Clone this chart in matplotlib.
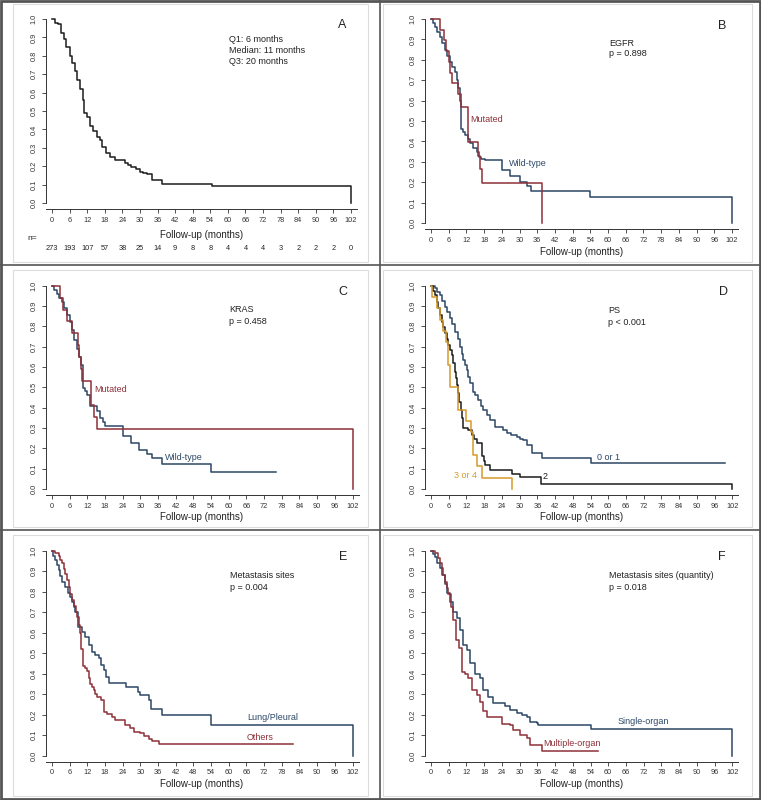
import numpy as np
import matplotlib
matplotlib.use("Agg")
import matplotlib.pyplot as plt
from matplotlib.patches import Rectangle
from matplotlib.lines import Line2D

plt.rcParams['font.family'] = ['Liberation Sans', 'DejaVu Sans']

# ---- data ----
x_ticks = list(range(0, 103, 6))
y_ticks = [0.0, 0.1, 0.2, 0.3, 0.4, 0.5, 0.6, 0.7, 0.8, 0.9, 1.0]
n_at_risk = [273, 193, 107, 57, 38, 25, 14, 9, 8, 8, 4, 4, 4, 3, 2, 2, 2, 0]

# A: all patients
tA = [0, 0.9, 2, 3.2, 4.2, 4.9, 6, 6.8, 7.7, 8.6, 9.5, 10.6, 11, 12, 12.9, 14, 15.2, 16.5, 17.2, 18.3,
      19.7, 21.4, 24.8, 26, 27.1, 28.8, 30, 31, 32.3, 34, 37.4, 54.5, 102]
sA = [1, 0.98, 0.975, 0.925, 0.89, 0.85, 0.80, 0.76, 0.715, 0.67, 0.62, 0.56, 0.49, 0.47, 0.42, 0.39, 0.36, 0.34, 0.305, 0.27,
      0.25, 0.233, 0.215, 0.205, 0.196, 0.187, 0.17, 0.165, 0.16, 0.124, 0.105, 0.091, 0]

# B: EGFR
tB_mut = [0, 3, 4.3, 5, 6, 6.5, 7.2, 9.2, 10, 12.5, 15.9, 16.6, 17.3, 37.5]
sB_mut = [1, 0.947, 0.895, 0.842, 0.789, 0.737, 0.684, 0.632, 0.568, 0.395, 0.329, 0.263, 0.197, 0]
tB_wt = [0, 0.7, 1.4, 2.2, 3, 3.8, 4.7, 5.5, 6.4, 7.2, 8.1, 8.7, 9.2, 9.8, 10.3, 11, 11.6, 12.4, 13.3, 14.4,
         15.5, 16.1, 17, 18.3, 24, 26.8, 30.2, 32.6, 33.9, 54, 102]
sB_wt = [1, 0.98, 0.96, 0.935, 0.91, 0.88, 0.85, 0.82, 0.79, 0.765, 0.74, 0.70, 0.66, 0.6, 0.46, 0.445, 0.43, 0.41, 0.39, 0.37,
         0.35, 0.325, 0.315, 0.31, 0.26, 0.23, 0.2, 0.18, 0.157, 0.127, 0]

# C: KRAS
tC_mut = [0, 2.8, 3.6, 5.0, 6.8, 8.7, 9.3, 9.8, 10.2, 13.3, 14.3, 15.2, 102]
sC_mut = [1, 0.941, 0.882, 0.824, 0.765, 0.706, 0.647, 0.588, 0.529, 0.412, 0.353, 0.294, 0]
tC_wt = [0, 0.8, 1.7, 2.5, 3.4, 4.2, 5.1, 6, 6.8, 7.6, 8.5, 9.2, 9.9, 10.5, 11.2, 11.9, 12.8, 15.2, 16.4, 17.2,
         18, 24, 26.8, 29.7, 32.2, 33.9, 37.3, 54, 76.2]
sC_wt = [1, 0.98, 0.96, 0.94, 0.92, 0.89, 0.856, 0.82, 0.78, 0.735, 0.69, 0.65, 0.61, 0.495, 0.48, 0.46, 0.41, 0.385, 0.35, 0.33,
         0.31, 0.26, 0.225, 0.19, 0.17, 0.153, 0.122, 0.082, 0.082]

# D: PS
tD_01 = [0, 1.4, 2.2, 3, 3.8, 4.7, 5.5, 6.4, 7.2, 8.1, 9, 9.8, 10.4, 10.9, 11.5, 12.1, 12.6, 13.2, 14.3, 15,
         16, 16.8, 17.7, 18.8, 20, 21.7, 24.5, 25.6, 27, 29, 30.2, 31.3, 32.4, 34.1, 37.5, 54.2, 99.5]
sD_01 = [1, 0.987, 0.97, 0.954, 0.925, 0.897, 0.87, 0.84, 0.81, 0.774, 0.74, 0.70, 0.665, 0.634, 0.61, 0.585, 0.55, 0.52, 0.479, 0.46,
         0.438, 0.41, 0.389, 0.365, 0.34, 0.307, 0.29, 0.274, 0.265, 0.257, 0.248, 0.24, 0.216, 0.175, 0.151, 0.126, 0.126]
tD_2 = [0, 0.8, 1.4, 2, 2.5, 3, 3.6, 4.2, 4.7, 5.3, 5.9, 6.5, 7, 7.6, 8.1, 8.5, 8.9, 9.2, 9.6, 10,
        10.4, 11, 12.6, 13.8, 14.6, 15.5, 17.2, 17.8, 18.3, 20, 27.3, 30.1, 37.1, 102]
sD_2 = [1, 0.975, 0.954, 0.92, 0.889, 0.855, 0.823, 0.795, 0.766, 0.74, 0.71, 0.685, 0.66, 0.62, 0.577, 0.545, 0.511, 0.47, 0.43, 0.39,
        0.347, 0.298, 0.29, 0.266, 0.245, 0.225, 0.16, 0.14, 0.118, 0.093, 0.074, 0.057, 0.025, 0]
tD_34 = [0, 0.3, 2, 3, 4.2, 5, 5.6, 6.3, 9.3, 11.8, 13.4, 14.3, 15.5, 17.2, 27.3]
sD_34 = [1, 0.944, 0.889, 0.833, 0.778, 0.722, 0.611, 0.5, 0.389, 0.333, 0.278, 0.167, 0.111, 0.056, 0]

# E: metastasis sites
tE_oth = [0, 1.1, 2.3, 2.8, 3.4, 4, 4.5, 5.1, 5.7, 6.2, 6.8, 7.4, 8, 8.5, 9, 9.6, 10, 10.5, 11.2, 11.9,
          12.4, 13, 13.5, 14.1, 14.6, 15.2, 16.6, 17.5, 18.6, 20.3, 21.5, 24.9, 26.5, 27.7, 29.9, 31.1, 32.8, 33.9, 36.4, 81.9]
sE_oth = [1, 0.987, 0.975, 0.955, 0.938, 0.91, 0.885, 0.857, 0.825, 0.79, 0.76, 0.73, 0.70, 0.678, 0.64, 0.597, 0.52, 0.44, 0.43, 0.415,
          0.38, 0.35, 0.335, 0.319, 0.30, 0.286, 0.27, 0.213, 0.205, 0.19, 0.173, 0.148, 0.137, 0.117, 0.112, 0.096, 0.08, 0.072, 0.055, 0.055]
tE_lung = [0, 0.5, 1.1, 1.7, 2.3, 2.8, 3.4, 4.5, 5.6, 6.2, 6.8, 7.4, 7.9, 8.8, 10.2, 11.3, 12.4, 13.6, 14.7, 15.8,
           16.7, 17.5, 18.4, 19.2, 25.2, 29.2, 29.9, 32.8, 33.6, 37.3, 54, 102]
sE_lung = [1, 0.975, 0.954, 0.93, 0.906, 0.878, 0.849, 0.824, 0.792, 0.775, 0.751, 0.725, 0.702, 0.63, 0.605, 0.58, 0.54, 0.507, 0.49, 0.475,
           0.442, 0.418, 0.385, 0.353, 0.337, 0.312, 0.296, 0.272, 0.23, 0.197, 0.148, 0]

# F: metastasis sites (quantity)
tF_mult = [0, 1.4, 2.5, 3.1, 3.6, 4.2, 4.7, 5.3, 5.9, 6.8, 7.6, 8.5, 9.6, 10.4, 11.5, 12.6, 13.8, 15.5, 16.6, 17.7,
           18.8, 24, 26.7, 27.9, 30.1, 32.4, 33.5, 37.7, 56.6]
sF_mult = [1, 0.987, 0.963, 0.94, 0.914, 0.88, 0.849, 0.82, 0.79, 0.727, 0.66, 0.564, 0.523, 0.41, 0.4, 0.377, 0.32, 0.295, 0.263, 0.22,
           0.19, 0.156, 0.15, 0.125, 0.1, 0.085, 0.052, 0.024, 0.024]
tF_single = [0, 0.7, 1.4, 2.2, 3, 3.8, 4.7, 5.5, 6.4, 7.6, 8.7, 9.8, 10.9, 12.1, 13.2, 14.9, 16.6, 17.7, 19.4, 21.1,
             25, 26.7, 29, 30.7, 32.4, 33.5, 35.8, 36.3, 54.2, 102]
sF_single = [1, 0.985, 0.97, 0.94, 0.914, 0.88, 0.84, 0.795, 0.75, 0.70, 0.67, 0.613, 0.54, 0.515, 0.45, 0.4, 0.377, 0.32, 0.288, 0.255,
             0.242, 0.221, 0.208, 0.197, 0.189, 0.165, 0.16, 0.148, 0.128, 0]

RED = '#8e3039'
BLUE = '#2c4866'
ORANGE = '#d69a2a'
BLACK = '#1c1c1c'

W, H = 761, 800


def fx(x):
    return x / W


def fy(y):
    return 1 - y / H


def make_axes(fig, x0, x102, y1, y0):
    # pixel anchors of t=0, t=102, S=1, S=0
    ppm = (x102 - x0) / 102.0
    ppu = (y0 - y1)
    left, right, top, bottom = x0 - 6, x102 + 6, y1 - 6, y0 + 6
    ax = fig.add_axes([fx(left), fy(bottom), (right - left) / W, (bottom - top) / H])
    ax.patch.set_alpha(0)
    ax.set_xlim(-6 / ppm, 102 + 6 / ppm)
    ax.set_ylim(-6 / ppu, 1 + 6 / ppu)
    for s in ['top', 'right']:
        ax.spines[s].set_visible(False)
    for s in ['left', 'bottom']:
        ax.spines[s].set_linewidth(0.7)
        ax.spines[s].set_color('#333333')
    ax.spines['left'].set_bounds(0, 1)
    ax.set_xticks(x_ticks)
    ax.set_xticklabels([str(v) for v in x_ticks])
    ax.set_yticks(y_ticks)
    ax.set_yticklabels(['%.1f' % v for v in y_ticks], rotation=90, va='center')
    ax.tick_params(direction='out', length=3, width=0.6, color='#333333',
                   labelsize=5.3, labelcolor='#333333')
    ax.tick_params(axis='x', pad=2.5)
    ax.tick_params(axis='y', pad=3)
    return ax


def curve(ax, t, s, color):
    ax.step(t, s, where='post', color=color, lw=1.1)


def txt(x, y, s, size=6.5, color='#222222', ha='left'):
    fig.text(fx(x), fy(y), s, fontsize=size, color=color, ha=ha, va='center')


fig = plt.figure(figsize=(7.61, 8.0), dpi=100)

# panel frames
frames = [(13, 4, 368, 262), (383, 4, 752, 262), (13, 270, 368, 527),
          (383, 270, 752, 527), (13, 535, 368, 796), (383, 535, 752, 796)]
for (x0, y0, x1, y1) in frames:
    fig.add_artist(Rectangle((fx(x0), fy(y1)), (x1 - x0) / W, (y1 - y0) / H,
                             transform=fig.transFigure, fill=False, ec='#dcdcdc', lw=0.8))
# dark separators and border
for seg in [((380, 380), (0, 800)), ((0, 761), (265, 265)), ((0, 761), (530, 530))]:
    fig.add_artist(Line2D([fx(v) for v in seg[0]], [fy(v) for v in seg[1]],
                          transform=fig.transFigure, color='#555555', lw=1.2))
fig.add_artist(Rectangle((0.001, 0.001), 0.998, 0.998, transform=fig.transFigure,
                         fill=False, ec='#555555', lw=2.0))

# A
ax = make_axes(fig, 52, 351, 19, 203)
curve(ax, tA, sA, BLACK)
txt(342, 25, 'A', size=9, ha='center')
txt(229, 40, 'Q1: 6 months')
txt(229, 50.7, 'Median: 11 months')
txt(229, 61.3, 'Q3: 20 months')
txt(202, 235, 'Follow-up (months)', size=7, ha='center')
txt(27, 239, 'n=', size=6)
for v, n in zip(x_ticks, n_at_risk):
    ax.text(v, -0.245, str(n), fontsize=5.3, ha='center', va='center', color='#222222')

# B
ax = make_axes(fig, 431, 732, 19, 223)
curve(ax, tB_wt, sB_wt, BLUE)
curve(ax, tB_mut, sB_mut, RED)
txt(722, 26, 'B', size=9, ha='center')
txt(609, 43, 'EGFR')
txt(609, 54, 'p = 0.898')
txt(470, 119, 'Mutated', color=RED)
txt(509, 164, 'Wild-type', color=BLUE)
txt(582, 252, 'Follow-up (months)', size=7, ha='center')

# C
ax = make_axes(fig, 52, 352.5, 285.7, 489)
curve(ax, tC_wt, sC_wt, BLUE)
curve(ax, tC_mut, sC_mut, RED)
txt(343, 292, 'C', size=9, ha='center')
txt(229, 310, 'KRAS')
txt(229, 321, 'p = 0.458')
txt(94, 389, 'Mutated', color=RED)
txt(165, 457, 'Wild-type', color=BLUE)
txt(202, 517, 'Follow-up (months)', size=7, ha='center')

# D
ax = make_axes(fig, 431, 732.3, 285.7, 489)
curve(ax, tD_01, sD_01, BLUE)
curve(ax, tD_2, sD_2, BLACK)
curve(ax, tD_34, sD_34, ORANGE)
txt(723, 292, 'D', size=9, ha='center')
txt(608, 311, 'PS')
txt(608, 322, 'p < 0.001')
txt(597, 458, '0 or 1', color=BLUE)
txt(543, 477, '2', color=BLACK)
txt(454, 476, '3 or 4', color=ORANGE)
txt(582, 517, 'Follow-up (months)', size=7, ha='center')

# E
ax = make_axes(fig, 52, 352.5, 550.7, 755.7)
curve(ax, tE_lung, sE_lung, BLUE)
curve(ax, tE_oth, sE_oth, RED)
txt(343, 557, 'E', size=9, ha='center')
txt(230, 576, 'Metastasis sites')
txt(230, 588, 'p = 0.004')
txt(247, 717, 'Lung/Pleural', color=BLUE)
txt(247, 737, 'Others', color=RED)
txt(202, 784, 'Follow-up (months)', size=7, ha='center')

# F
ax = make_axes(fig, 431, 732.3, 550.7, 755.7)
curve(ax, tF_single, sF_single, BLUE)
curve(ax, tF_mult, sF_mult, RED)
txt(722, 557, 'F', size=9, ha='center')
txt(609, 575, 'Metastasis sites (quantity)')
txt(609, 587, 'p = 0.018')
txt(618, 722, 'Single-organ', color=BLUE)
txt(543, 743, 'Multiple-organ', color=RED)
txt(582, 784, 'Follow-up (months)', size=7, ha='center')

fig.savefig('out.png', dpi=100)
